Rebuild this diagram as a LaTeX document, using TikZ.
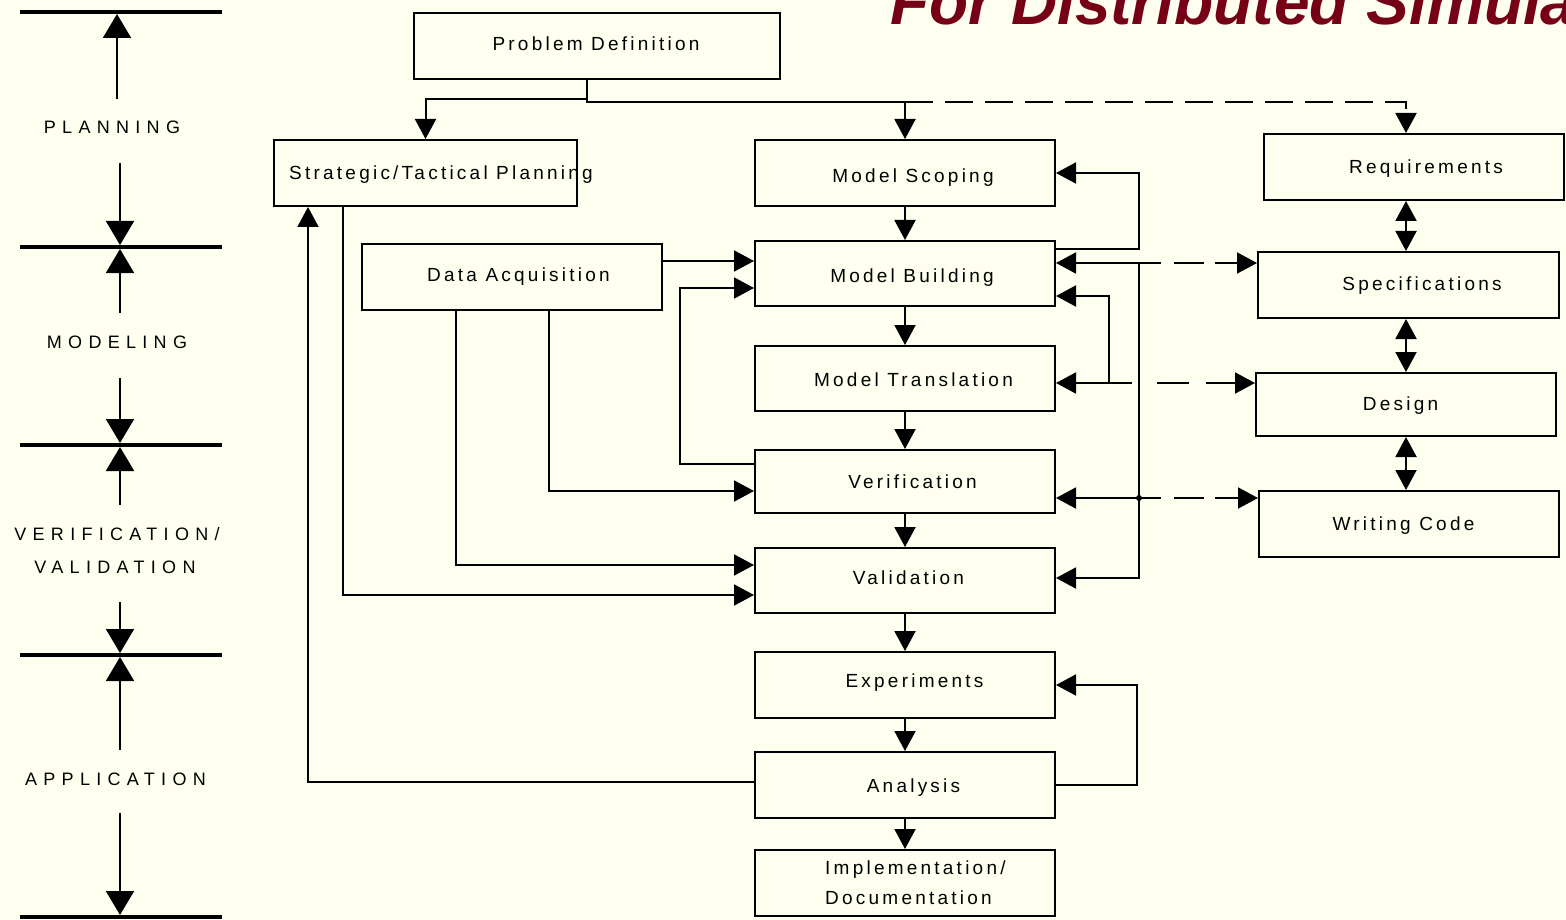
\documentclass[tikz,border=0pt]{standalone}
\usepackage{fontspec}
\setmainfont{Liberation Sans}
\newfontfamily\boxfont[LetterSpace=17]{Liberation Sans}
\newfontfamily\tlfont[LetterSpace=35]{Liberation Sans}
\usetikzlibrary{arrows.meta}
\definecolor{bg}{RGB}{255,255,240}
\definecolor{titlered}{RGB}{118,0,22}
\begin{document}
\begin{tikzpicture}[x=1pt,y=-1pt,
  box/.style={draw, line width=2pt, inner sep=0pt, minimum width=300pt, minimum height=66pt},
  txt/.style={font=\boxfont\fontsize{19}{22}\selectfont, inner sep=0pt, anchor=base},
  tl/.style={font=\tlfont\fontsize{18}{20}\selectfont, inner sep=0pt, anchor=base},
  conn/.style={line width=2pt},
  arr/.style={conn, -{Triangle[length=20pt,width=21pt]}},
  darr/.style={conn, {Triangle[length=20pt,width=21pt]}-{Triangle[length=20pt,width=21pt]}},
  tarr/.style={line width=2pt, -{Triangle[length=24pt,width=28pt]}},
  bar/.style={line width=4.5pt},
  dsh/.style={dash pattern=on 28pt off 12pt},
  dshb/.style={dash pattern=on 22pt off 13pt on 30pt off 11pt on 90pt},
]
\fill[bg] (0,0) rectangle (1566,920);
\useasboundingbox (0,0) rectangle (1566,920);
\clip (0,0) rectangle (1566,920);

% title
\node[anchor=base west, inner sep=0pt, text=titlered, font=\fontsize{64}{72}\selectfont\bfseries\itshape] (title) at (890,25) {For Distributed Simulation};

% timeline
\draw[bar] (20,12) -- (222,12);
\draw[bar] (20,247) -- (222,247);
\draw[bar] (20,445) -- (222,445);
\draw[bar] (20,655) -- (222,655);
\draw[bar] (20,917) -- (222,917);
\draw[tarr] (117,99) -- (117,14);
\draw[tarr] (120,163) -- (120,245);
\draw[tarr] (120,313) -- (120,249);
\draw[tarr] (120,378) -- (120,443);
\draw[tarr] (120,505) -- (120,447);
\draw[tarr] (120,602) -- (120,653);
\draw[tarr] (120,750) -- (120,657);
\draw[tarr] (120,813) -- (120,915);
\node[tl] (plan) at (112,134) {PLANNING};
\node[tl] (model) at (117,348) {MODELING};
\node[tl] (verif) at (117,540) {VERIFICATION/};
\node[tl] (valid) at (115,573) {VALIDATION};
\node[tl] (appl) at (115.5,785) {APPLICATION};

% boxes
\node[box, minimum width=366pt] (pd) at (597,46) {};
\node[box, minimum width=303pt] (st) at (425.5,173) {};
\node[box] (ms) at (905,173) {};
\node[box] (rq) at (1414,167) {};
\node[box] (da) at (512,277) {};
\node[box, minimum height=65pt] (mb) at (905,273.5) {};
\node[box, minimum width=301pt] (sp) at (1408.5,285) {};
\node[box, minimum height=65pt] (mt) at (905,378.5) {};
\node[box, minimum height=63pt] (de) at (1406,404.5) {};
\node[box, minimum height=63pt] (ve) at (905,481.5) {};
\node[box] (wc) at (1409,524) {};
\node[box, minimum height=65pt] (va) at (905,580.5) {};
\node[box] (ex) at (905,685) {};
\node[box] (an) at (905,785) {};
\node[box] (im) at (905,883) {};

% labels
\node[txt] (pd-t) at (596,51) {Problem Definition};
\node[txt] (st-t) at (441,180) {Strategic/Tactical Planning};
\node[txt] (ms-t) at (913,183) {Model Scoping};
\node[txt] (rq-t) at (1426,174) {Requirements};
\node[txt] (da-t) at (518.5,281) {Data Acquisition};
\node[txt] (mb-t) at (912,282) {Model Building};
\node[txt] (sp-t) at (1422,290) {Specifications};
\node[txt] (mt-t) at (913.5,386) {Model Translation};
\node[txt] (de-t) at (1400.5,410) {Design};
\node[txt] (ve-t) at (912.5,488) {Verification};
\node[txt] (wc-t) at (1403.5,530) {Writing Code};
\node[txt] (va-t) at (908.5,584) {Validation};
\node[txt] (ex-t) at (914.5,687) {Experiments};
\node[txt] (an-t) at (913.5,792) {Analysis};
\node[txt, anchor=base west] (im-t1) at (825,874) {Implementation/};
\node[txt, anchor=base west] (im-t2) at (825,904) {Documentation};

% problem definition branches
\path ([xshift=-10pt]pd.south) coordinate (pdj) ++(0,19) coordinate (pdl) ++(0,3) coordinate (pdr);
\draw[arr] (pdj) -- (pdl) -| (st.north);
\draw[arr] (pdj) -- (pdr) -| (ms.north);
\draw[arr, dsh] (pdr -| ms.north) -| ([xshift=-8pt]rq.north);

% left side connectors
\draw[arr] ([xshift=-82.5pt]st.south) |- ([yshift=-14.5pt]va.west);
\draw[arr] ([yshift=3pt]an.west) -| ([xshift=-117.5pt]st.south);
\path ([yshift=16pt]da.east) coordinate (dae);
\draw[arr] (dae) -- (dae -| mb.west);
\draw[arr] ([xshift=-56pt]da.south) |- ([yshift=15.5pt]va.west);
\draw[arr] ([xshift=37pt]da.south) |- ([yshift=-9.5pt]ve.west);
\draw[arr] ([yshift=17.5pt]ve.west) -- ++(-74,0) |- ([yshift=-14.5pt]mb.west);

% main chain
\foreach \a/\b in {ms/mb, mb/mt, mt/ve, ve/va, va/ex, ex/an, an/im}
  \draw[arr] (\a.south) -- (\b.north);

% right side feedback
\draw[arr] ([yshift=24.5pt]mb.east) -- ++(83,0) |- (ms.east);
\path ([yshift=10.5pt]mb.east) ++(83,0) coordinate (j1);
\draw[arr] (j1) -- (j1 -| mb.east);
\draw[arr] (j1) |- ([yshift=2.5pt]va.east);
\draw[arr, dshb] (j1) -- (j1 -| sp.west);
\path ([yshift=-4.5pt]mt.east) ++(53,0) coordinate (j2);
\draw[arr] (j2) |- ([yshift=-22.5pt]mb.east);
\draw[arr] (j2) -- (j2 -| mt.east);
\draw[arr, dash pattern=on 23pt off 25pt on 32pt off 17pt on 90pt] (j2) -- (j2 -| de.west);
\path (j1 |- ve.east) ++(0,16.5) coordinate (j3);
\draw[arr] (j3) -- (j3 -| ve.east);
\draw[arr, dshb] (j3) -- (j3 -| wc.west);
\fill (j3) circle (3pt);
\draw[arr] (an.east) -- ++(81,0) |- (ex.east);

% right column
\draw[darr] ([xshift=-8pt]rq.south) -- ([xshift=-8pt]rq.south |- sp.north);
\draw[darr] (sp.south -| de.north) -- (de.north);
\draw[darr] (de.south) -- (de.south |- wc.north);
\end{tikzpicture}
\end{document}
